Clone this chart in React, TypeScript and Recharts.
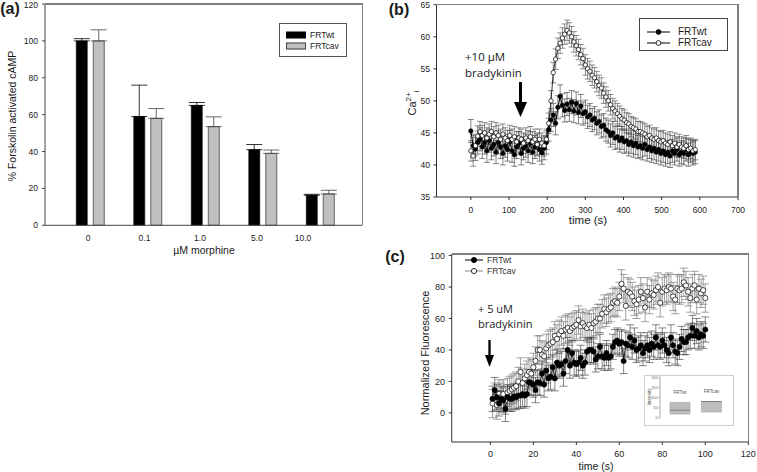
import React from "react";
import { BarChart, Bar, LineChart, Line, XAxis, YAxis, ErrorBar, LabelList } from "recharts";

const FONT = '"Liberation Sans", Arial, sans-serif';
const NOTE_FONT = '"Open Sans", sans-serif';

// ─── (a) morphine / cAMP ───
const A_DOSES = ["0", "0.1", "1.0", "5.0", "10.0"];
const A_WT = [100, 59, 65, 41, 16.3];
const A_WT_ERR = [1.2, 17, 1.6, 2.8, 0.5];
const A_CAV = [100, 58, 53.5, 39, 17];
const A_CAV_ERR = [6, 5.3, 5.3, 1.8, 2];
const A_TICKS = [0, 20, 40, 60, 80, 100, 120];
// the original tick labels sit a bit left of their bar pairs
const A_LABEL_SHIFT = [-2, -3, -5, -5.5, -17];

// ─── (b) Ca2+ trace, bradykinin 10 uM ───
const B_TIME = [
  0, 6, 12, 18, 24, 30, 36, 42, 48, 54, 60, 66, 72, 78, 84, 90, 96, 102, 108, 114,
  120, 126, 132, 138, 144, 150, 156, 162, 168, 174, 180, 186, 192, 198, 204, 210, 216, 222, 228, 234,
  240, 246, 252, 258, 264, 270, 276, 282, 288, 294, 300, 306, 312, 318, 324, 330, 336, 342, 348, 354,
  360, 366, 372, 378, 384, 390, 396, 402, 408, 414, 420, 426, 432, 438, 444, 450, 456, 462, 468, 474,
  480, 486, 492, 498, 504, 510, 516, 522, 528, 534, 540, 546, 552, 558, 564, 570, 576, 582, 588,
];
const B_WT = [
  45.3, 43.0, 42.5, 43.5, 44.0, 42.8, 43.5, 42.2, 43.8, 42.6,
  43.2, 42.0, 43.5, 42.8, 41.8, 43.0, 42.4, 43.6, 42.2, 41.6,
  42.8, 43.4, 41.8, 42.6, 43.0, 42.2, 43.4, 42.0, 42.8, 43.2,
  42.4, 41.9, 42.6, 43.5, 45.5, 47.0, 47.8, 46.5, 49.0, 50.7,
  49.3, 48.5, 49.5, 48.6, 49.8, 48.4, 49.6, 48.2, 49.2, 48.0,
  48.3, 47.5, 47.8, 47.0, 47.3, 46.5, 46.8, 46.0, 46.2, 45.5,
  45.2, 44.6, 45.0, 44.2, 44.4, 43.8, 44.2, 43.6, 43.8, 43.2,
  43.6, 43.0, 43.4, 42.8, 43.0, 42.6, 43.2, 42.4, 42.8, 42.2,
  42.6, 42.0, 42.4, 41.8, 42.2, 41.6, 42.0, 41.4, 42.2, 41.8,
  42.4, 41.6, 42.0, 41.8, 42.4, 41.6, 42.2, 41.8, 42.0,
];
const B_CAV = [
  42.2, 41.4, 43.0, 44.5, 45.2, 44.6, 45.0, 44.2, 44.8, 45.2,
  44.4, 45.0, 44.6, 44.0, 44.8, 44.2, 43.8, 44.6, 44.0, 44.4,
  43.6, 44.2, 44.0, 43.4, 44.2, 43.8, 44.4, 43.6, 44.0, 43.2,
  44.0, 43.4, 43.0, 44.0, 46.5, 50.0, 54.4, 56.5, 58.2, 59.0,
  59.8, 60.4, 61.0, 60.6, 60.0, 59.2, 58.6, 58.0, 57.2, 56.6,
  55.6, 55.0, 54.6, 54.0, 53.6, 53.0, 52.4, 52.0, 51.2, 50.6,
  50.0, 49.4, 48.8, 48.4, 48.0, 47.6, 47.2, 47.0, 46.6, 46.4,
  46.0, 45.8, 45.6, 45.2, 45.2, 45.0, 44.8, 44.4, 44.6, 44.2,
  44.0, 44.2, 43.8, 43.6, 43.8, 43.4, 43.2, 43.6, 43.0, 43.4,
  42.8, 43.2, 42.8, 42.6, 43.0, 42.4, 42.6, 42.2, 42.4,
];
const B_WT_SEM = 1.8;
const B_CAV_SEM = 1.6;
const B_XTICKS = [0, 100, 200, 300, 400, 500, 600, 700];
const B_YTICKS = [35, 40, 45, 50, 55, 60, 65];

// ─── (c) fluorescence, bradykinin 5 uM ───
const C_TIME = [
  1, 2, 3, 4, 5, 6, 7, 8, 9, 10, 11, 12, 13, 14, 15, 16, 17, 18, 19, 20,
  21, 22, 23, 24, 25, 26, 27, 28, 29, 30, 31, 32, 33, 34, 35, 36, 37, 38, 39, 40,
  41, 42, 43, 44, 45, 46, 47, 48, 49, 50, 51, 52, 53, 54, 55, 56, 57, 58, 59, 60,
  61, 62, 63, 64, 65, 66, 67, 68, 69, 70, 71, 72, 73, 74, 75, 76, 77, 78, 79, 80,
  81, 82, 83, 84, 85, 86, 87, 88, 89, 90, 91, 92, 93, 94, 95, 96, 97, 98, 99, 100,
];
const C_WT = [
  9, 14.5, 10, 6, 9, 8, 2.5, 10, 9, 9,
  10.5, 10, 11, 11, 12, 11, 12, 19.5, 19, 18,
  14.5, 19.5, 19, 25, 18, 27, 22, 23, 29, 22,
  32, 30, 31, 25, 33, 40, 30, 38, 32, 31,
  32, 35, 30, 32, 39, 40, 40, 39, 34, 36,
  42, 36, 35, 38, 35, 36, 42, 45, 46, 44,
  45, 33, 44, 43, 48, 42, 46, 40, 41, 43,
  38, 41, 43, 40, 44, 42, 48, 43, 42, 46,
  43, 40, 38, 48, 43, 39, 38, 42, 47, 45,
  45, 48, 49, 54, 49, 52, 48, 50, 49, 53,
];
const C_CAV = [
  6, 10, 5, 12, 10, 12, 8, 13, 14, 15,
  16, 17, 20, 26, 19, 22, 24, 26, 25, 29,
  33, 40, 40, 37, 36, 41, 43, 44, 45, 49,
  47, 50, 52, 49, 53, 54, 52, 54, 55, 56,
  59, 55, 57, 55, 54, 56, 54, 57, 58, 60,
  60, 63, 66, 64, 66, 67, 70, 71, 70, 74,
  82, 79, 68, 77, 76, 74, 71, 69, 72, 77,
  73, 67, 77, 72, 76, 75, 78, 80, 70, 77,
  79, 78, 80, 79, 74, 72, 79, 78, 79, 83,
  81, 77, 73, 79, 81, 72, 79, 76, 78, 73,
];
const C_WT_SEM = 8;
const C_CAV_SEM = 9;
const C_XTICKS = [0, 20, 40, 60, 80, 100, 120];
const C_YTICKS = [0, 20, 40, 60, 80, 100];

// inset box plot (intensity)
const INSET_GROUPS = ["FRTwt", "FRTcav"];
const INSET_Q1 = [19, 29];
const INSET_Q3 = [76, 81];
const INSET_MEDIAN = [38, 80];
const INSET_TICKS = [0, 50, 100, 150, 200];

const aData = A_DOSES.map((dose, i) => ({
  dose,
  wt: A_WT[i],
  wtErr: [0, A_WT_ERR[i]],
  cav: A_CAV[i],
  cavErr: [0, A_CAV_ERR[i]],
}));
const bData = B_TIME.map((t, i) => ({ t, wt: B_WT[i], cav: B_CAV[i], wtErr: B_WT_SEM, cavErr: B_CAV_SEM }));
const cData = C_TIME.map((t, i) => ({ t, wt: C_WT[i], cav: C_CAV[i], wtErr: C_WT_SEM, cavErr: C_CAV_SEM }));
const insetData = INSET_GROUPS.map((name, i) => ({ name, box: [INSET_Q1[i], INSET_Q3[i]], med: INSET_MEDIAN[i] }));

const tickStyle = (size: number) => ({ fontSize: size, fill: "#222", fontFamily: FONT });

function DoseTick(props: any) {
  const { x, y, payload, index } = props;
  return (
    <text x={x + (A_LABEL_SHIFT[index] || 0)} y={y} dy="0.71em" textAnchor="middle" fontSize={8.5} fill="#222" fontFamily={FONT}>
      {payload.value}
    </text>
  );
}

function Txt({ x, y, size, children, rotate = 0, bold = false, family = FONT, left = false, color = "#1a1a1a" }: any) {
  return (
    <div
      style={{
        position: "absolute",
        left: x,
        top: y,
        transform: `translate(${left ? "0" : "-50%"}, -50%) rotate(${rotate}deg)`,
        fontSize: size,
        fontFamily: family,
        fontWeight: bold ? 700 : 400,
        color,
        whiteSpace: "nowrap",
        lineHeight: 1,
      }}
    >
      {children}
    </div>
  );
}

// top + right sides of the plot box (left/bottom come from the axes)
function PlotBox({ l, t, r, b }: any) {
  return (
    <>
      <div style={{ position: "absolute", left: l, top: t - 0.75, width: r - l + 0.75, height: 1.5, background: "#808080" }} />
      <div style={{ position: "absolute", left: r - 0.75, top: t - 0.75, width: 1.5, height: b - t + 0.75, background: "#808080" }} />
    </>
  );
}

function Arrow({ x, top, tip, headH, headW, shaft }: any) {
  const w = headW + 2;
  const h = tip - top;
  return (
    <svg style={{ position: "absolute", left: x - w / 2, top }} width={w} height={h}>
      <rect x={w / 2 - shaft / 2} y={0} width={shaft} height={h - headH + 1} fill="#000" />
      <polygon points={`${w / 2 - headW / 2},${h - headH} ${w / 2 + headW / 2},${h - headH} ${w / 2},${h}`} fill="#000" />
    </svg>
  );
}

function MarkerSym({ w, r, filled, lineColor }: any) {
  return (
    <svg width={w} height={2 * r + 2} style={{ display: "block" }}>
      <line x1={0} y1={r + 1} x2={w} y2={r + 1} stroke={lineColor} strokeWidth={1} />
      <circle cx={w / 2} cy={r + 1} r={r} fill={filled ? "#000" : "#fff"} stroke="#000" strokeWidth={0.8} />
    </svg>
  );
}

function Row({ x, y, children }: any) {
  return (
    <div style={{ position: "absolute", left: x, top: y, transform: "translateY(-50%)" }}>{children}</div>
  );
}

function BoxShape(props: any) {
  const { x, y, width, height, payload } = props;
  const top = Math.min(y, y + height);
  const h = Math.abs(height);
  const [lo, hi] = payload.box;
  const my = top + (h * (hi - payload.med)) / (hi - lo);
  return (
    <g>
      <rect x={x} y={top} width={width} height={h} fill="#bdbdbd" stroke="#9a9a9a" strokeWidth={0.5} />
      <line x1={x} x2={x + width} y1={my} y2={my} stroke="#6b6b6b" strokeWidth={0.8} />
    </g>
  );
}

function PanelA() {
  return (
    <>
      <div style={{ position: "absolute", left: 0, top: 0 }}>
        <BarChart width={380} height={260} data={aData} margin={{ top: 4, right: 17.7, left: 0, bottom: 0 }} barSize={11} barGap={6}>
          <XAxis dataKey="dose" height={34.7} padding={{ left: 16.25, right: 13.5 }} tickLine={false} tickSize={6} tickMargin={4} tick={<DoseTick />} stroke="#444" />
          <YAxis type="number" domain={[0, 120]} ticks={A_TICKS} width={45} tickSize={3} tickMargin={4} tick={tickStyle(8.5)} stroke="#444" />
          <Bar dataKey="wt" fill="#000" stroke="#000" strokeWidth={0.6} isAnimationActive={false}>
            <ErrorBar dataKey="wtErr" width={8} stroke="#000" strokeWidth={0.8} direction="y" isAnimationActive={false} />
          </Bar>
          <Bar dataKey="cav" fill="#c0c0c0" stroke="#444" strokeWidth={0.8} isAnimationActive={false}>
            <ErrorBar dataKey="cavErr" width={8} stroke="#444" strokeWidth={0.8} direction="y" isAnimationActive={false} />
          </Bar>
        </BarChart>
      </div>
      <PlotBox l={45} t={4} r={362.3} b={225.3} />
      <Txt x={10} y={9} size={16} bold>(a)</Txt>
      <Txt x={12} y={116} size={10.5} rotate={-90}>% Forskolin activated cAMP</Txt>
      <Txt x={204} y={250} size={10.5}>µM morphine</Txt>
      <div style={{ position: "absolute", left: 279, top: 23, width: 68, height: 34, border: "1px solid #555", boxSizing: "border-box" }} />
      <Row x={286} y={34.5}>
        <div style={{ width: 20, height: 7, background: "#000" }} />
      </Row>
      <Txt x={310} y={34.5} size={8.5} left>FRTwt</Txt>
      <Row x={286} y={46}>
        <div style={{ width: 20, height: 7, background: "#c0c0c0", border: "1px solid #444", boxSizing: "border-box" }} />
      </Row>
      <Txt x={310} y={46} size={8.5} left>FRTcav</Txt>
    </>
  );
}

function PanelB() {
  return (
    <>
      <div style={{ position: "absolute", left: 380, top: 0 }}>
        <LineChart width={377} height={240} data={bData} margin={{ top: 4.7, right: 19, left: 0, bottom: 0 }}>
          <XAxis type="number" dataKey="t" domain={[-90, 700]} ticks={B_XTICKS} height={43} tickSize={3} tickMargin={7} tick={tickStyle(8.5)} stroke="#333" allowDataOverflow />
          <YAxis type="number" domain={[35, 65]} ticks={B_YTICKS} width={56.5} tickSize={3} tickMargin={3.5} tick={tickStyle(8.5)} stroke="#333" allowDataOverflow />
          <Line type="linear" dataKey="wt" stroke="#000" strokeWidth={1} dot={{ r: 2.2, fill: "#000", stroke: "#000", strokeWidth: 0.6 }} activeDot={false} isAnimationActive={false}>
            <ErrorBar dataKey="wtErr" width={3} stroke="#333" strokeWidth={0.6} direction="y" isAnimationActive={false} />
          </Line>
          <Line type="linear" dataKey="cav" stroke="#000" strokeWidth={0.8} dot={{ r: 2.2, fill: "#fff", stroke: "#000", strokeWidth: 0.7 }} activeDot={false} isAnimationActive={false}>
            <ErrorBar dataKey="cavErr" width={3} stroke="#444" strokeWidth={0.6} direction="y" isAnimationActive={false} />
          </Line>
        </LineChart>
      </div>
      <PlotBox l={436.5} t={4.7} r={738} b={197} />
      <Txt x={399} y={10} size={16} bold>(b)</Txt>
      <Txt x={413} y={103} size={11} rotate={-90}>
        Ca<sup style={{ fontSize: 8 }}>2+</sup>
        <sub style={{ fontSize: 8 }}>i</sub>
      </Txt>
      <Txt x={588} y={221} size={11.5}>time (s)</Txt>
      <Txt x={465} y={57} size={11.5} family={NOTE_FONT} left>+10 µM</Txt>
      <Txt x={465} y={73} size={11.5} family={NOTE_FONT} left>bradykinin</Txt>
      <Arrow x={520} top={82} tip={117} headH={15} headW={13} shaft={3} />
      <div style={{ position: "absolute", left: 639, top: 18, width: 89, height: 33, border: "1px solid #444", boxSizing: "border-box", background: "#fff" }} />
      <Row x={647} y={32}>
        <MarkerSym w={23} r={2.4} filled lineColor="#000" />
      </Row>
      <Txt x={678} y={32} size={10} left>FRTwt</Txt>
      <Row x={647} y={43}>
        <MarkerSym w={23} r={2.4} filled={false} lineColor="#000" />
      </Row>
      <Txt x={678} y={43} size={10} left>FRTcav</Txt>
    </>
  );
}

function PanelC() {
  return (
    <>
      <div style={{ position: "absolute", left: 380, top: 240 }}>
        <LineChart width={377} height={232} data={cData} margin={{ top: 14, right: 8.7, left: 0, bottom: 0 }}>
          <XAxis type="number" dataKey="t" domain={[-18, 120]} ticks={C_XTICKS} height={30} tickSize={3} tickMargin={6} tick={tickStyle(9)} stroke="#333" allowDataOverflow />
          <YAxis type="number" domain={[-18.5, 101]} ticks={C_YTICKS} width={71.7} tickSize={3} tickMargin={3.7} tick={tickStyle(9)} stroke="#333" allowDataOverflow />
          <Line type="linear" dataKey="cav" stroke="#9a9a9a" strokeWidth={0.8} dot={{ r: 2.6, fill: "#fff", stroke: "#000", strokeWidth: 0.7 }} activeDot={false} isAnimationActive={false}>
            <ErrorBar dataKey="cavErr" width={4} stroke="#666" strokeWidth={0.6} direction="y" isAnimationActive={false} />
          </Line>
          <Line type="linear" dataKey="wt" stroke="#000" strokeWidth={0.8} dot={{ r: 2.6, fill: "#000", stroke: "#000", strokeWidth: 0.6 }} activeDot={false} isAnimationActive={false}>
            <ErrorBar dataKey="wtErr" width={4} stroke="#333" strokeWidth={0.6} direction="y" isAnimationActive={false} />
          </Line>
        </LineChart>
      </div>
      <PlotBox l={451.7} t={254} r={748.3} b={442} />
      <Txt x={395} y={257} size={16} bold>(c)</Txt>
      <Txt x={425} y={353} size={11} rotate={-90}>Normalized Fluorescence</Txt>
      <Txt x={596} y={466} size={10.5}>time (s)</Txt>
      <Txt x={478} y={308} size={11} family={NOTE_FONT} left>+ 5 uM</Txt>
      <Txt x={478} y={323} size={11} family={NOTE_FONT} left>bradykinin</Txt>
      <Arrow x={489.3} top={340} tip={367} headH={12} headW={9} shaft={2.3} />
      <Row x={465} y={259.5}>
        <MarkerSym w={18} r={2.6} filled lineColor="#000" />
      </Row>
      <Txt x={487} y={259.5} size={8.5} left color="#333">FRTwt</Txt>
      <Row x={465} y={270.5}>
        <MarkerSym w={18} r={2.6} filled={false} lineColor="#888" />
      </Row>
      <Txt x={487} y={270.5} size={8.5} left color="#333">FRTcav</Txt>
      <Inset />
    </>
  );
}

function Inset() {
  return (
    <div style={{ position: "absolute", left: 644, top: 375, width: 90, height: 51, border: "1px solid #cfcfcf", boxSizing: "border-box", background: "#fff" }}>
      <BarChart width={88} height={49} data={insetData} margin={{ top: 1, right: 6, left: 0, bottom: 0 }} barSize={20}>
        <XAxis dataKey="name" height={7} padding={{ left: 4, right: 0 }} tick={false} tickLine={false} axisLine={false} />
        <YAxis type="number" domain={[0, 200]} ticks={INSET_TICKS} width={15} tickSize={1.5} tickMargin={1} tick={{ fontSize: 3.8, fill: "#666", fontFamily: FONT }} stroke="#aaa" />
        <Bar dataKey="box" shape={BoxShape} isAnimationActive={false}>
          <LabelList dataKey="name" position="top" offset={8} style={{ fontSize: 4.6, fill: "#555", fontFamily: FONT }} />
        </Bar>
      </BarChart>
      <Txt x={5} y={21} size={4.5} rotate={-90} color="#555">Intensity</Txt>
    </div>
  );
}

export default function App() {
  return (
    <div style={{ position: "absolute", left: 0, top: 0, width: 757, height: 472, background: "#fff", overflow: "hidden" }}>
      <PanelA />
      <PanelB />
      <PanelC />
    </div>
  );
}
